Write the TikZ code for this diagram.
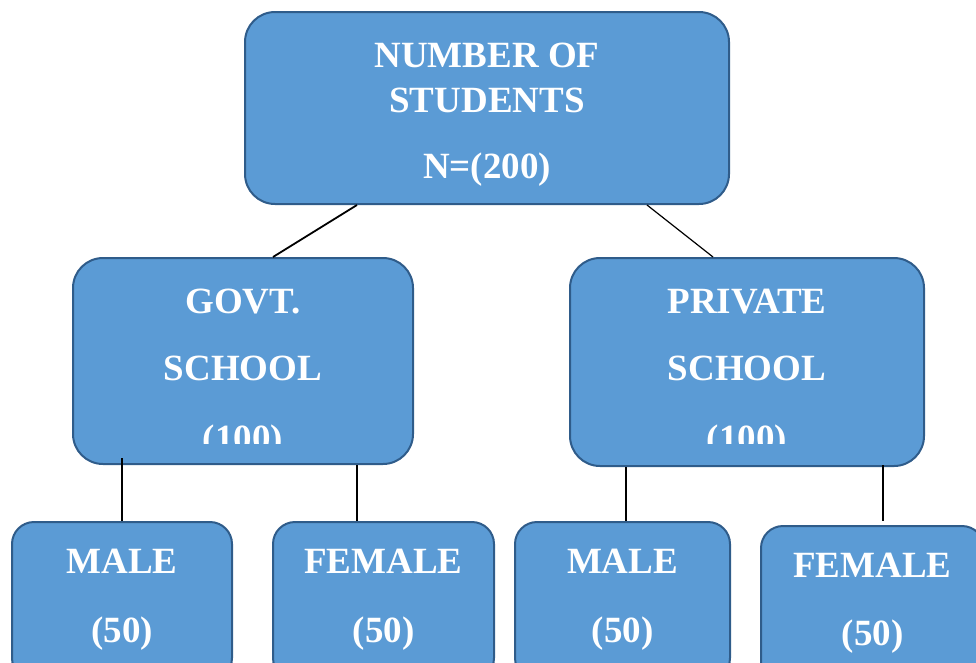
\documentclass[tikz,border=0pt]{standalone}
\usepackage{fontspec}
\setmainfont{Liberation Serif}
\definecolor{boxfill}{HTML}{5B9BD5}
\definecolor{boxline}{HTML}{2F5C8A}
\begin{document}
\begin{tikzpicture}[x=1pt,y=-1pt,
  box/.style={draw=boxline,line width=2pt,fill=boxfill,rounded corners=30pt,inner sep=0pt},
  smallbox/.style={box,rounded corners=22pt},
  lbl/.style={text=white,font=\fontsize{37}{44}\selectfont\bfseries,anchor=base,inner sep=0pt},
  conn/.style={draw=black,line width=1.2pt}]
\useasboundingbox (0,0) rectangle (976,662);
\clip (0,0) rectangle (976,662);
% boxes
\node[box,minimum width=484pt,minimum height=192pt] (top) at (487,108) {};
\node[box,minimum width=340pt,minimum height=206pt] (govt) at (243,361) {};
\node[box,minimum width=354pt,minimum height=208pt] (priv) at (747,362) {};
\node[smallbox,minimum width=220pt,minimum height=158pt] (male1) at (122,601) {};
\node[smallbox,minimum width=221pt,minimum height=158pt] (female1) at (383.5,601) {};
\node[smallbox,minimum width=215pt,minimum height=158pt] (male2) at (622.5,601) {};
\node[smallbox,minimum width=223pt,minimum height=158pt] (female2) at (872.5,605) {};
% connectors
\draw[conn,line width=1.8pt] ([xshift=-130pt]top.south) -- ([xshift=30pt]govt.north);
\draw[conn] ([xshift=160pt]top.south) -- ([xshift=-34pt]priv.north);
\draw[conn] ([yshift=7pt]govt.south -| male1.north) -- (male1.north);
\coordinate (f1top) at ([xshift=-26.5pt]female1.north);
\draw[conn] (govt.south -| f1top) -- (f1top);
\coordinate (m2top) at ([xshift=3.5pt]male2.north);
\draw[conn] (priv.south -| m2top) -- (m2top);
\coordinate (f2top) at ([xshift=10.5pt,yshift=4pt]female2.north);
\draw[conn] ([yshift=2pt]priv.south -| f2top) -- (f2top);
% texts
\node[lbl] (t1) at (487,67) {NUMBER OF};
\node[lbl] (t2) at (487,112) {STUDENTS};
\node[lbl] (t3) at (487,178) {N=(200)};
\node[lbl] (g1) at (243,313) {GOVT.};
\node[lbl] (g2) at (243,380) {SCHOOL};
\node[lbl] (p1) at (747,313) {PRIVATE};
\node[lbl] (p2) at (747,380) {SCHOOL};
\begin{scope}
\clip (0,0) rectangle (976,443);
\node[lbl] (g3) at (243,450) {(100)};
\node[lbl] (p3) at (747,450) {(100)};
\end{scope}
\node[lbl] (m1a) at (122,573) {MALE};
\node[lbl] (m1b) at (122,642) {(50)};
\node[lbl] (f1a) at (383.5,573) {FEMALE};
\node[lbl] (f1b) at (383.5,642) {(50)};
\node[lbl] (m2a) at (622.5,573) {MALE};
\node[lbl] (m2b) at (622.5,642) {(50)};
\node[lbl] (f2a) at (872.5,577) {FEMALE};
\node[lbl] (f2b) at (872.5,645) {(50)};
\end{tikzpicture}
\end{document}
